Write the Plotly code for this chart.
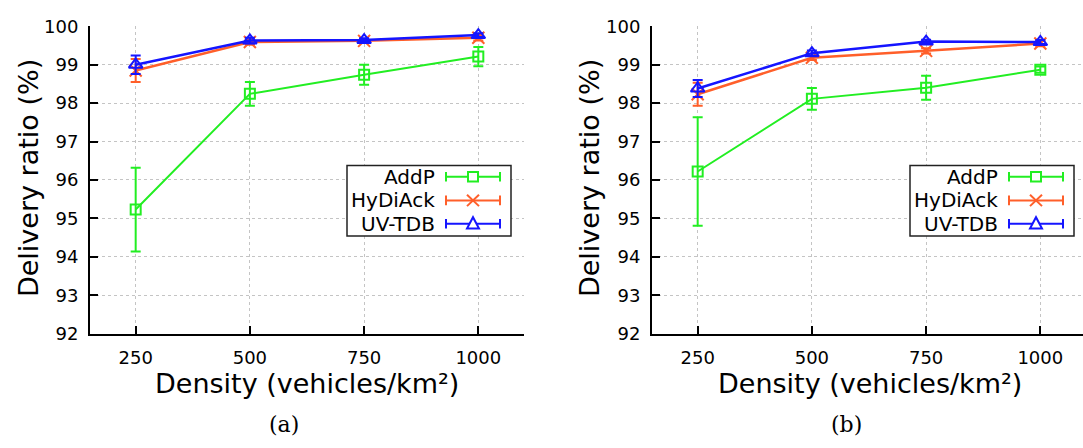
import plotly.graph_objects as go

W, H = 1083, 448

# ---------------- data ----------------
density = [250, 500, 750, 1000]
x_tick_vals = [250, 500, 750, 1000]
x_tick_text = ["250", "500", "750", "1000"]
y_tick_vals = [92, 93, 94, 95, 96, 97, 98, 99, 100]

series_names = ["AddP", "HyDiAck", "UV-TDB"]

addp_a = [95.23, 98.24, 98.74, 99.21]
addp_a_err = [1.09, 0.31, 0.26, 0.25]
hydiack_a = [98.85, 99.59, 99.62, 99.70]
hydiack_a_err = [0.30, 0.07, 0.05, 0.07]
uvtdb_a = [99.00, 99.63, 99.64, 99.77]
uvtdb_a_err = [0.24, 0.07, 0.05, 0.05]

addp_b = [96.22, 98.11, 98.40, 98.87]
addp_b_err = [1.41, 0.28, 0.31, 0.08]
hydiack_b = [98.23, 99.18, 99.36, 99.55]
hydiack_b_err = [0.30, 0.06, 0.07, 0.07]
uvtdb_b = [98.38, 99.30, 99.60, 99.59]
uvtdb_b_err = [0.22, 0.07, 0.05, 0.05]

captions = ["(a)", "(b)"]
x_title = "Density (vehicles/km²)"
y_title = "Delivery ratio (%)"

# ---------------- styles ----------------
colors = {"AddP": "#22ee22", "HyDiAck": "#ff5f2a", "UV-TDB": "#1515ff"}
symbols = {"AddP": "square-open", "HyDiAck": "x-thin-open", "UV-TDB": "triangle-up-open"}
msize = {"AddP": 10, "HyDiAck": 12, "UV-TDB": 12}
lwidth = {"AddP": 2, "HyDiAck": 2.5, "UV-TDB": 2.5}
FONT = "DejaVu Sans"


def px(x):
    return x / W


def py(y):
    return 1 - y / H


fig = go.Figure()

panels = [
    dict(xa="x", ya="y", data={"AddP": (addp_a, addp_a_err), "HyDiAck": (hydiack_a, hydiack_a_err),
                                "UV-TDB": (uvtdb_a, uvtdb_a_err)}),
    dict(xa="x2", ya="y2", data={"AddP": (addp_b, addp_b_err), "HyDiAck": (hydiack_b, hydiack_b_err),
                                  "UV-TDB": (uvtdb_b, uvtdb_b_err)}),
]

for p in panels:
    for name in series_names:
        vals, errs = p["data"][name]
        fig.add_trace(go.Scatter(
            x=density, y=vals, xaxis=p["xa"], yaxis=p["ya"], name=name, showlegend=False,
            mode="lines+markers", cliponaxis=False,
            line=dict(color=colors[name], width=lwidth[name]),
            marker=dict(symbol=symbols[name], size=msize[name], color=colors[name],
                        line=dict(color=colors[name], width=2)),
            error_y=dict(type="data", array=errs, visible=True, color=colors[name],
                         thickness=2, width=5),
        ))

# plot areas in pixels
left_dom = (90, 524)
right_dom = (652, 1083)
y_top, y_bot = 16, 338.5
xr_left = [150, 1100]
xr_right = [150, 150 + (right_dom[1] - right_dom[0]) * 950 / (left_dom[1] - left_dom[0])]

axis_common = dict(showline=True, linecolor="black", linewidth=2, ticks="inside", ticklen=8,
                   tickwidth=2, tickcolor="black", showgrid=True, gridcolor="#c4c4c4",
                   griddash="dot", gridwidth=1, zeroline=False, mirror=False,
                   tickfont=dict(family=FONT, size=18, color="black"))

fig.update_layout(
    width=W, height=H, margin=dict(l=0, r=0, t=0, b=0),
    paper_bgcolor="white", plot_bgcolor="white", showlegend=False,
    xaxis=dict(domain=[px(left_dom[0]), px(left_dom[1])], range=xr_left, anchor="y",
               tickvals=x_tick_vals + [1100], ticktext=x_tick_text + [""],
               ticklabelstandoff=7, **axis_common),
    yaxis=dict(domain=[py(y_bot), py(y_top)], range=[92, 100], anchor="x",
               tickvals=y_tick_vals, ticklabelstandoff=6, **axis_common),
    xaxis2=dict(domain=[px(right_dom[0]), 1.0], range=xr_right, anchor="y2",
                tickvals=x_tick_vals, ticktext=x_tick_text, ticklabelstandoff=7, **axis_common),
    yaxis2=dict(domain=[py(y_bot), py(y_top)], range=[92, 100], anchor="x2",
                tickvals=y_tick_vals, ticklabelstandoff=6, **axis_common),
)

annotations = []
shapes = []

# axis titles and captions
for dom, cap, ytx, capx, xtc in [(left_dom, captions[0], 28, 284, 307), (right_dom, captions[1], 589, 846, 870)]:
    annotations.append(dict(text=x_title, x=px(xtc), y=py(391), xref="paper", yref="paper",
                            showarrow=False, xanchor="center", yanchor="middle",
                            font=dict(family=FONT, size=27, color="black")))
    annotations.append(dict(text=y_title, x=px(ytx), y=py((y_top + y_bot) / 2 - 2), xref="paper",
                            yref="paper", showarrow=False, textangle=-90, xanchor="center",
                            yanchor="middle", font=dict(family=FONT, size=27, color="black")))
    annotations.append(dict(text=cap, x=px(capx), y=py(434), xref="paper", yref="paper",
                            showarrow=False, xanchor="center", yanchor="middle",
                            font=dict(family="DejaVu Serif", size=22, color="black")))

# manual legends (gnuplot style)
legends = [
    dict(box=(347, 162, 511, 236), text_r=437, line=(446, 500), mx=473),
    dict(box=(910, 162, 1074, 236), text_r=1000, line=(1009, 1063), mx=1036),
]
rows = [174, 198.7, 223.3]
for lg in legends:
    bx0, by0, bx1, by1 = lg["box"]
    shapes.append(dict(type="rect", xref="paper", yref="paper", x0=px(bx0), x1=px(bx1),
                       y0=py(by1), y1=py(by0), line=dict(color="#222222", width=1.5),
                       fillcolor="white", layer="above"))
    for name, ry in zip(series_names, rows):
        c = colors[name]
        annotations.append(dict(text=name, x=px(lg["text_r"]), y=py(ry), xref="paper", yref="paper",
                                showarrow=False, xanchor="right", yanchor="middle",
                                font=dict(family=FONT, size=20, color="black")))
        l0, l1 = lg["line"]
        shapes.append(dict(type="line", xref="paper", yref="paper", x0=px(l0), x1=px(l1),
                           y0=py(ry), y1=py(ry), line=dict(color=c, width=2), layer="above"))
        for cx in (l0, l1):
            shapes.append(dict(type="line", xref="paper", yref="paper", x0=px(cx), x1=px(cx),
                               y0=py(ry - 5), y1=py(ry + 5), line=dict(color=c, width=2),
                               layer="above"))
        mx = lg["mx"]
        if name == "AddP":
            shapes.append(dict(type="rect", xref="paper", yref="paper", x0=px(mx - 5), x1=px(mx + 5),
                               y0=py(ry + 5), y1=py(ry - 5), line=dict(color=c, width=2),
                               fillcolor="white", layer="above"))
        elif name == "HyDiAck":
            for a, b in [((-6, -6), (6, 6)), ((-6, 6), (6, -6))]:
                shapes.append(dict(type="line", xref="paper", yref="paper", x0=px(mx + a[0]),
                                   x1=px(mx + b[0]), y0=py(ry + a[1]), y1=py(ry + b[1]),
                                   line=dict(color=c, width=2), layer="above"))
        else:
            path = "M {} {} L {} {} L {} {} Z".format(px(mx - 6), py(ry + 5), px(mx + 6), py(ry + 5),
                                                    px(mx), py(ry - 7))
            shapes.append(dict(type="path", xref="paper", yref="paper", path=path,
                               line=dict(color=c, width=2), fillcolor="white", layer="above"))

fig.update_layout(annotations=annotations, shapes=shapes)
fig.write_html("out.html")
